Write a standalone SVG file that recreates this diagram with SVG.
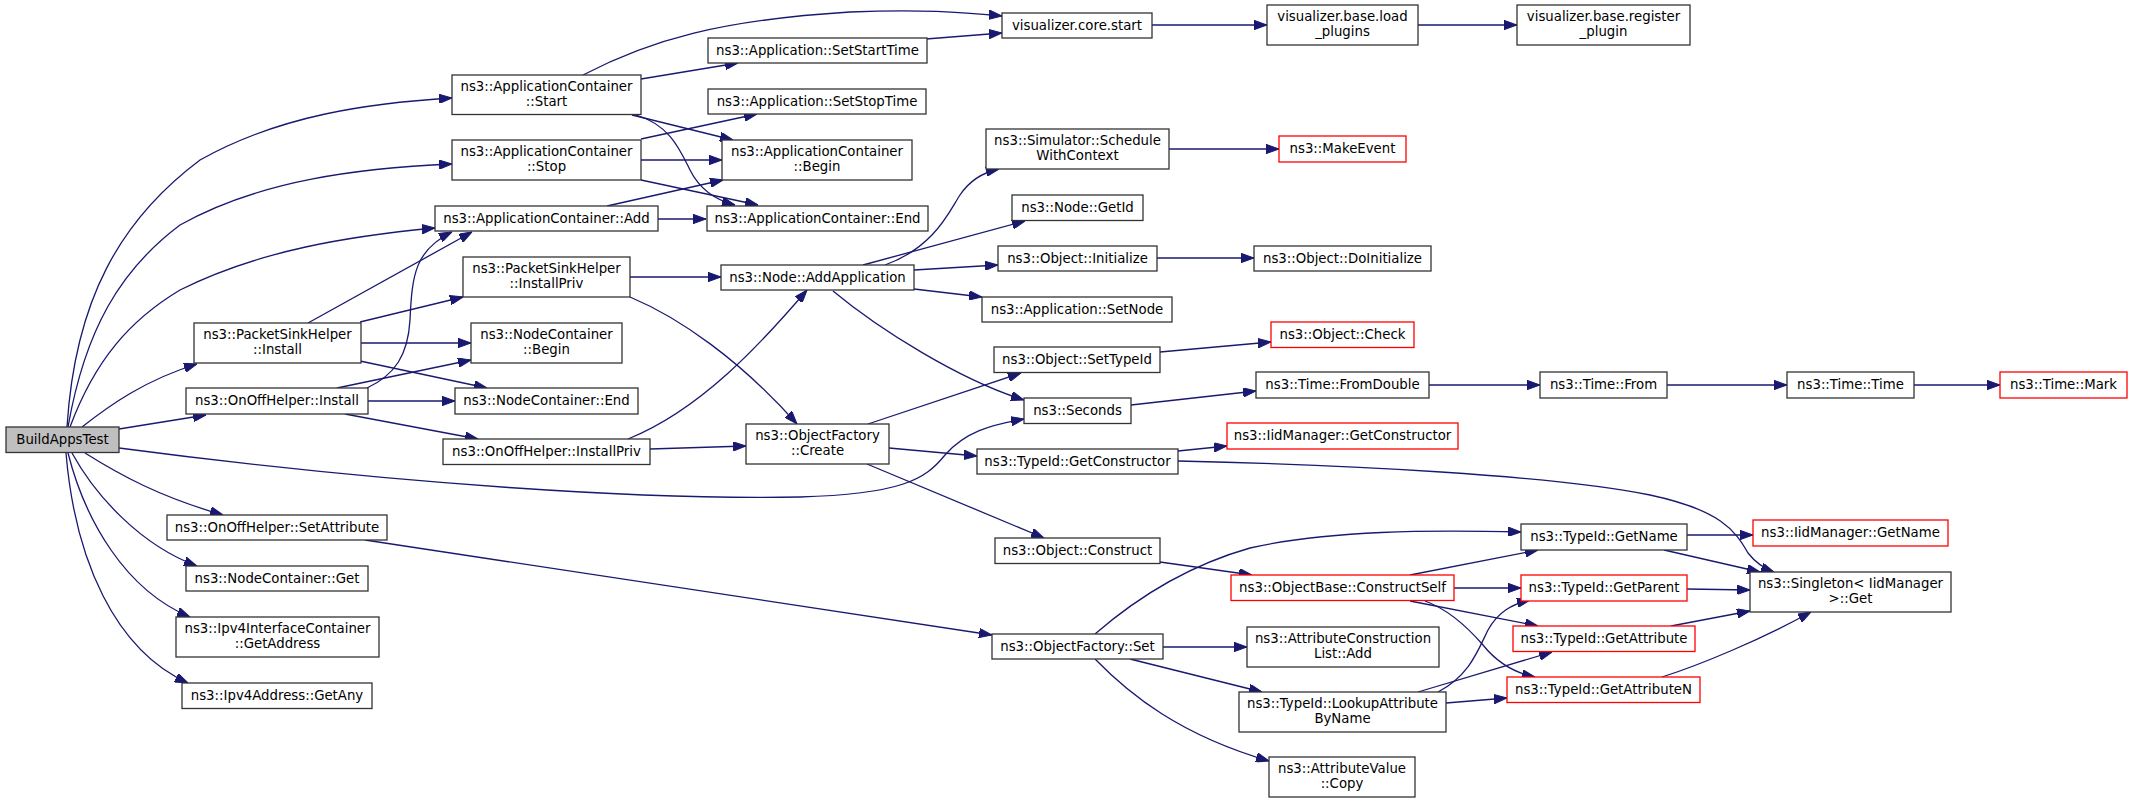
<svg xmlns="http://www.w3.org/2000/svg" width="2133" height="803" viewBox="0 0 2133 803">
<defs>
<style>
.n rect{fill:#fff;stroke:#333;stroke-width:1.3}
.r rect{fill:#fff;stroke:#ff0000;stroke-width:1.3}
.g rect{fill:#bfbfbf;stroke:#333;stroke-width:1.3}
text{font-family:'DejaVu Sans','Liberation Sans',sans-serif;font-size:13.3px;text-anchor:middle;fill:#000}
.e path{fill:none;stroke:#191970;stroke-width:1.3;marker-end:url(#a)}
</style>
<marker id="a" viewBox="0 0 13 9.4" refX="13" refY="4.7" markerWidth="13" markerHeight="9.4" markerUnits="userSpaceOnUse" orient="auto">
<path d="M0,0 L13,4.7 L0,9.4 z" fill="#191970" stroke="#191970" stroke-width="1"/>
</marker>
</defs>
<rect width="2133" height="803" fill="#fff"/>
<g id="edges" class="e">
<path d="M67,427 C75,300 120,220 200,160 C280,115 370,103 452,98"/>
<path d="M68,427 C85,330 120,270 180,225 C260,180 360,168 452,164"/>
<path d="M70,427 C95,360 130,320 180,290 C260,250 350,236 435,228"/>
<path d="M82,427 C110,405 145,380 197,364"/>
<path d="M119,429 L206,415"/>
<path d="M119,448 C400,485 650,500 800,497 C900,494 925,480 945,455 C965,432 990,425 1024,419"/>
<path d="M85,453 C120,475 160,497 223,515"/>
<path d="M72,453 C95,495 140,545 197,566"/>
<path d="M68,453 C85,520 125,590 190,617"/>
<path d="M66,453 C75,560 115,650 188,683"/>
<path d="M583,75 C650,40 720,20 850,12 C920,9 960,12 1002,16"/>
<path d="M641,79 L738,63"/>
<path d="M632,115 L733,140"/>
<path d="M636,115 C670,125 680,150 690,170 C700,190 715,200 735,205"/>
<path d="M641,139 L757,114"/>
<path d="M641,160 L722,160"/>
<path d="M641,180 L758,205"/>
<path d="M607,206 L723,180"/>
<path d="M658,219 L706,219"/>
<path d="M308,323 L472,232"/>
<path d="M360,322 L463,297"/>
<path d="M361,343 L471,343"/>
<path d="M360,361 L487,388"/>
<path d="M367,388 C395,375 408,355 410,320 C412,275 415,250 452,232"/>
<path d="M337,388 L471,360"/>
<path d="M368,401 L455,401"/>
<path d="M345,414 L478,439"/>
<path d="M630,277 L721,277"/>
<path d="M630,297 C680,318 740,360 797,424"/>
<path d="M628,439 C700,410 760,345 807,290"/>
<path d="M650,449 L746,446"/>
<path d="M885,265 C935,247 950,210 960,195 C970,180 985,172 999,169"/>
<path d="M863,265 L1025,221"/>
<path d="M914,270 L998,265"/>
<path d="M914,289 L982,297"/>
<path d="M833,291 C880,330 960,380 1024,400"/>
<path d="M1169,149 L1279,149"/>
<path d="M1152,25 L1267,25"/>
<path d="M1418,25 L1517,25"/>
<path d="M926,39 L1002,33"/>
<path d="M1157,258 L1254,258"/>
<path d="M1160,352 L1271,342"/>
<path d="M1131,405 L1256,391"/>
<path d="M1429,385 L1540,385"/>
<path d="M1667,385 L1787,385"/>
<path d="M1914,385 L2000,385"/>
<path d="M868,424 L1021,373"/>
<path d="M889,448 L977,456"/>
<path d="M867,464 L1044,538"/>
<path d="M1178,451 L1227,446"/>
<path d="M1178,461 C1350,465 1550,475 1650,495 C1720,510 1735,530 1748,553 C1755,562 1763,568 1774,572"/>
<path d="M1160,562 L1252,575"/>
<path d="M1410,575 L1538,550"/>
<path d="M1454,588 L1521,588"/>
<path d="M1410,601 L1538,626"/>
<path d="M1425,601 C1450,610 1470,630 1483,645 C1495,660 1510,672 1535,677"/>
<path d="M1095,634 C1140,595 1190,565 1250,548 C1330,530 1430,530 1521,532"/>
<path d="M1163,647 L1247,647"/>
<path d="M1130,659 L1262,692"/>
<path d="M1095,659 C1130,695 1180,735 1269,761"/>
<path d="M1438,692 C1470,675 1478,650 1488,630 C1498,612 1512,604 1530,600"/>
<path d="M1418,692 L1552,652"/>
<path d="M1446,703 L1507,698"/>
<path d="M1687,535 L1753,535"/>
<path d="M1664,550 L1760,572"/>
<path d="M1687,589 L1750,590"/>
<path d="M1671,626 L1750,611"/>
<path d="M1662,677 C1700,665 1760,640 1811,612"/>
<path d="M365,540 L992,635"/>
</g>
<g id="n1" class="g"><rect x="6" y="427" width="113" height="25.5"/><text x="62.5" y="444">BuildAppsTest</text></g>
<g id="n2" class="n"><rect x="452" y="75" width="189" height="39.5"/><text x="546.5" y="91">ns3::ApplicationContainer</text><text x="546.5" y="105.5">::Start</text></g>
<g id="n3" class="n"><rect x="452" y="140" width="189" height="40"/><text x="546.5" y="156">ns3::ApplicationContainer</text><text x="546.5" y="170.5">::Stop</text></g>
<g id="n4" class="n"><rect x="435" y="206" width="223" height="25"/><text x="546.5" y="223">ns3::ApplicationContainer::Add</text></g>
<g id="n5" class="n"><rect x="463" y="257" width="167" height="40"/><text x="546.5" y="273">ns3::PacketSinkHelper</text><text x="546.5" y="287.5">::InstallPriv</text></g>
<g id="n6" class="n"><rect x="194" y="323" width="167" height="40"/><text x="277.5" y="339">ns3::PacketSinkHelper</text><text x="277.5" y="353.5">::Install</text></g>
<g id="n7" class="n"><rect x="471" y="323" width="151" height="40"/><text x="546.5" y="339">ns3::NodeContainer</text><text x="546.5" y="353.5">::Begin</text></g>
<g id="n8" class="n"><rect x="186" y="388" width="182" height="26"/><text x="277" y="405">ns3::OnOffHelper::Install</text></g>
<g id="n9" class="n"><rect x="455" y="388" width="183" height="26"/><text x="546.5" y="405">ns3::NodeContainer::End</text></g>
<g id="n10" class="n"><rect x="443" y="439" width="207" height="25.5"/><text x="546.5" y="456">ns3::OnOffHelper::InstallPriv</text></g>
<g id="n11" class="n"><rect x="167" y="515" width="220" height="25"/><text x="277" y="532">ns3::OnOffHelper::SetAttribute</text></g>
<g id="n12" class="n"><rect x="186" y="566" width="182" height="25"/><text x="277" y="583">ns3::NodeContainer::Get</text></g>
<g id="n13" class="n"><rect x="176" y="617" width="203" height="40"/><text x="277.5" y="633">ns3::Ipv4InterfaceContainer</text><text x="277.5" y="647.5">::GetAddress</text></g>
<g id="n14" class="n"><rect x="182" y="683" width="190" height="25.5"/><text x="277" y="700">ns3::Ipv4Address::GetAny</text></g>
<g id="n15" class="n"><rect x="1002" y="13" width="150" height="25"/><text x="1077" y="30">visualizer.core.start</text></g>
<g id="n16" class="n"><rect x="708" y="38" width="219" height="25"/><text x="817.5" y="55">ns3::Application::SetStartTime</text></g>
<g id="n17" class="n"><rect x="708" y="89" width="218" height="25"/><text x="817" y="106">ns3::Application::SetStopTime</text></g>
<g id="n18" class="n"><rect x="722" y="140" width="190" height="40"/><text x="817" y="156">ns3::ApplicationContainer</text><text x="817" y="170.5">::Begin</text></g>
<g id="n19" class="n"><rect x="707" y="206" width="221" height="25"/><text x="817.5" y="223">ns3::ApplicationContainer::End</text></g>
<g id="n20" class="n"><rect x="986" y="129" width="183" height="40"/><text x="1077.5" y="145">ns3::Simulator::Schedule</text><text x="1077.5" y="159.5">WithContext</text></g>
<g id="n21" class="r"><rect x="1279" y="136" width="127" height="26"/><text x="1342.5" y="153">ns3::MakeEvent</text></g>
<g id="n22" class="n"><rect x="1267" y="5" width="151" height="40"/><text x="1342.5" y="21">visualizer.base.load</text><text x="1342.5" y="35.5">_plugins</text></g>
<g id="n23" class="n"><rect x="1517" y="5" width="173" height="40"/><text x="1603.5" y="21">visualizer.base.register</text><text x="1603.5" y="35.5">_plugin</text></g>
<g id="n24" class="n"><rect x="1012" y="195" width="131" height="25.5"/><text x="1077.5" y="212">ns3::Node::GetId</text></g>
<g id="n25" class="n"><rect x="998" y="246" width="159" height="25"/><text x="1077.5" y="263">ns3::Object::Initialize</text></g>
<g id="n26" class="n"><rect x="1254" y="246" width="177" height="25"/><text x="1342.5" y="263">ns3::Object::DoInitialize</text></g>
<g id="n27" class="n"><rect x="721" y="265" width="193" height="25"/><text x="817.5" y="282">ns3::Node::AddApplication</text></g>
<g id="n28" class="n"><rect x="982" y="297" width="190" height="25"/><text x="1077" y="314">ns3::Application::SetNode</text></g>
<g id="n29" class="r"><rect x="1271" y="322" width="143" height="25.5"/><text x="1342.5" y="339">ns3::Object::Check</text></g>
<g id="n30" class="n"><rect x="994" y="347" width="166" height="25.5"/><text x="1077" y="364">ns3::Object::SetTypeId</text></g>
<g id="n31" class="n"><rect x="1256" y="372" width="173" height="26"/><text x="1342.5" y="389">ns3::Time::FromDouble</text></g>
<g id="n32" class="n"><rect x="1540" y="372" width="127" height="26"/><text x="1603.5" y="389">ns3::Time::From</text></g>
<g id="n33" class="n"><rect x="1787" y="372" width="127" height="26"/><text x="1850.5" y="389">ns3::Time::Time</text></g>
<g id="n34" class="r"><rect x="2000" y="372" width="127" height="26"/><text x="2063.5" y="389">ns3::Time::Mark</text></g>
<g id="n35" class="n"><rect x="1024" y="398" width="107" height="25.5"/><text x="1077.5" y="415">ns3::Seconds</text></g>
<g id="n36" class="n"><rect x="746" y="424" width="143" height="40"/><text x="817.5" y="440">ns3::ObjectFactory</text><text x="817.5" y="454.5">::Create</text></g>
<g id="n37" class="n"><rect x="977" y="449" width="201" height="25"/><text x="1077.5" y="466">ns3::TypeId::GetConstructor</text></g>
<g id="n38" class="r"><rect x="1227" y="423" width="231" height="26"/><text x="1342.5" y="440">ns3::IidManager::GetConstructor</text></g>
<g id="n39" class="n"><rect x="995" y="538" width="165" height="25.5"/><text x="1077.5" y="555">ns3::Object::Construct</text></g>
<g id="n40" class="r"><rect x="1231" y="575" width="223" height="25.5"/><text x="1342.5" y="592">ns3::ObjectBase::ConstructSelf</text></g>
<g id="n41" class="n"><rect x="992" y="634" width="171" height="25"/><text x="1077.5" y="651">ns3::ObjectFactory::Set</text></g>
<g id="n42" class="n"><rect x="1247" y="627" width="192" height="40"/><text x="1343" y="643">ns3::AttributeConstruction</text><text x="1343" y="657.5">List::Add</text></g>
<g id="n43" class="n"><rect x="1239" y="692" width="207" height="40"/><text x="1342.5" y="708">ns3::TypeId::LookupAttribute</text><text x="1342.5" y="722.5">ByName</text></g>
<g id="n44" class="n"><rect x="1269" y="757" width="146" height="40"/><text x="1342" y="773">ns3::AttributeValue</text><text x="1342" y="787.5">::Copy</text></g>
<g id="n45" class="n"><rect x="1521" y="524" width="166" height="26"/><text x="1604" y="541">ns3::TypeId::GetName</text></g>
<g id="n46" class="r"><rect x="1753" y="520" width="195" height="26"/><text x="1850.5" y="537">ns3::IidManager::GetName</text></g>
<g id="n47" class="n"><rect x="1750" y="572" width="201" height="40"/><text x="1850.5" y="588">ns3::Singleton&lt; IidManager</text><text x="1850.5" y="602.5">&gt;::Get</text></g>
<g id="n48" class="r"><rect x="1521" y="575" width="166" height="26"/><text x="1604" y="592">ns3::TypeId::GetParent</text></g>
<g id="n49" class="r"><rect x="1513" y="626" width="182" height="25.5"/><text x="1604" y="643">ns3::TypeId::GetAttribute</text></g>
<g id="n50" class="r"><rect x="1507" y="677" width="193" height="25.5"/><text x="1603.5" y="694">ns3::TypeId::GetAttributeN</text></g>
</svg>
